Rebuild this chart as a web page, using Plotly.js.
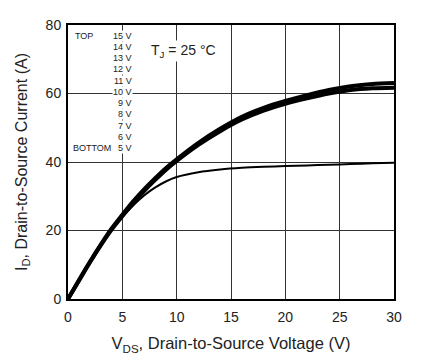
<!DOCTYPE html>
<html><head><meta charset="utf-8">
<script src="https://cdn.plot.ly/plotly-3.0.1.min.js"></script>
<style>html,body{margin:0;padding:0;background:#fff}#c{width:426px;height:359px}</style>
</head><body><div id="c"></div>
<script>
const vds = [0,1,2,3,4,5,6,7,8,9,10,12,14,16,18,20,22,24,26,28,30];
const id15V = [0,5.5,10.8,15.8,20.5,24.6,28.5,32.0,35.2,38.2,40.8,45.6,49.7,53.2,55.8,57.8,59.5,61.0,62.1,62.8,63.1];
const id6V  = [0,5.3,10.6,15.6,20.2,24.2,28.0,31.5,34.7,37.7,40.3,45.0,49.0,52.4,55.0,57.0,58.6,60.0,61.0,61.5,61.7];
const id5V  = [0,5.4,10.7,15.7,20.2,24.0,27.3,30.2,32.5,34.3,35.6,37.0,37.8,38.3,38.6,38.8,39.0,39.2,39.4,39.6,39.8];
const vgsLabels = ["15 V","14 V","13 V","12 V","11 V","10 V","9 V","8 V","7 V","6 V","5 V"];
const xTicks = [0,5,10,15,20,25,30];
const yTicks = [0,20,40,60,80];

const traces = [
  {x:vds,y:id6V,mode:'lines',line:{color:'#000',width:4,shape:'spline',smoothing:0.8},hoverinfo:'none'},
  {x:vds,y:id15V,mode:'lines',line:{color:'#000',width:4,shape:'spline',smoothing:0.8},hoverinfo:'none'},
  {x:vds,y:id5V,mode:'lines',line:{color:'#000',width:2,shape:'spline',smoothing:0.8},hoverinfo:'none'}
];

const ann = [];
const labelY0 = 35.6;
vgsLabels.forEach((t,i)=>{
  ann.push({xref:'paper',yref:'paper',x:(133-68)/326,y:(299-(labelY0+i*(148-labelY0)/10))/274,
    text:t,showarrow:false,xanchor:'right',yanchor:'middle',font:{size:9,color:'#222'},
    bgcolor:'#fff',borderpad:0});
});
ann.push({xref:'paper',yref:'paper',x:(74-68)/326,y:(299-35.6)/274,text:'TOP',showarrow:false,
  xanchor:'left',yanchor:'middle',font:{size:9,color:'#222'},bgcolor:'#fff',borderpad:0});
ann.push({xref:'paper',yref:'paper',x:(72-68)/326,y:(299-148)/274,text:'BOTTOM',showarrow:false,
  xanchor:'left',yanchor:'middle',font:{size:9,color:'#222'},bgcolor:'#fff',borderpad:0});
ann.push({xref:'paper',yref:'paper',x:(149-68)/326,y:(299-51)/274,text:'T<sub>J</sub> = 25 °C',showarrow:false,
  xanchor:'left',yanchor:'middle',font:{size:14,color:'#222'},bgcolor:'#fff',borderpad:1});

const layout = {
  width:426,height:359,
  margin:{l:68,r:32,t:25,b:60},
  paper_bgcolor:'#fff',plot_bgcolor:'#fff',
  showlegend:false,
  font:{family:'Liberation Sans, Arial, sans-serif',color:'#222'},
  xaxis:{range:[0,30],tickvals:xTicks,ticktext:xTicks.map(String),showgrid:true,gridcolor:'#333',gridwidth:1,
    zeroline:false,showline:true,mirror:true,linecolor:'#000',linewidth:2,ticks:'',ticklabelstandoff:4,
    tickfont:{size:14,color:'#222'},
    title:{text:'V<sub>DS</sub>, Drain-to-Source Voltage (V)',font:{size:16.5,color:'#222'},standoff:14}},
  yaxis:{range:[0,80],tickvals:yTicks,ticktext:yTicks.map(String),showgrid:true,gridcolor:'#333',gridwidth:1,
    zeroline:false,showline:true,mirror:true,linecolor:'#000',linewidth:2,ticks:'',ticklabelstandoff:2,
    tickfont:{size:14,color:'#222'},
    title:{text:'I<sub>D</sub>, Drain-to-Source Current (A)',font:{size:16,color:'#222'},standoff:14}},
  annotations:ann
};
Plotly.newPlot('c',traces,layout,{staticPlot:true,displayModeBar:false});
</script></body></html>
